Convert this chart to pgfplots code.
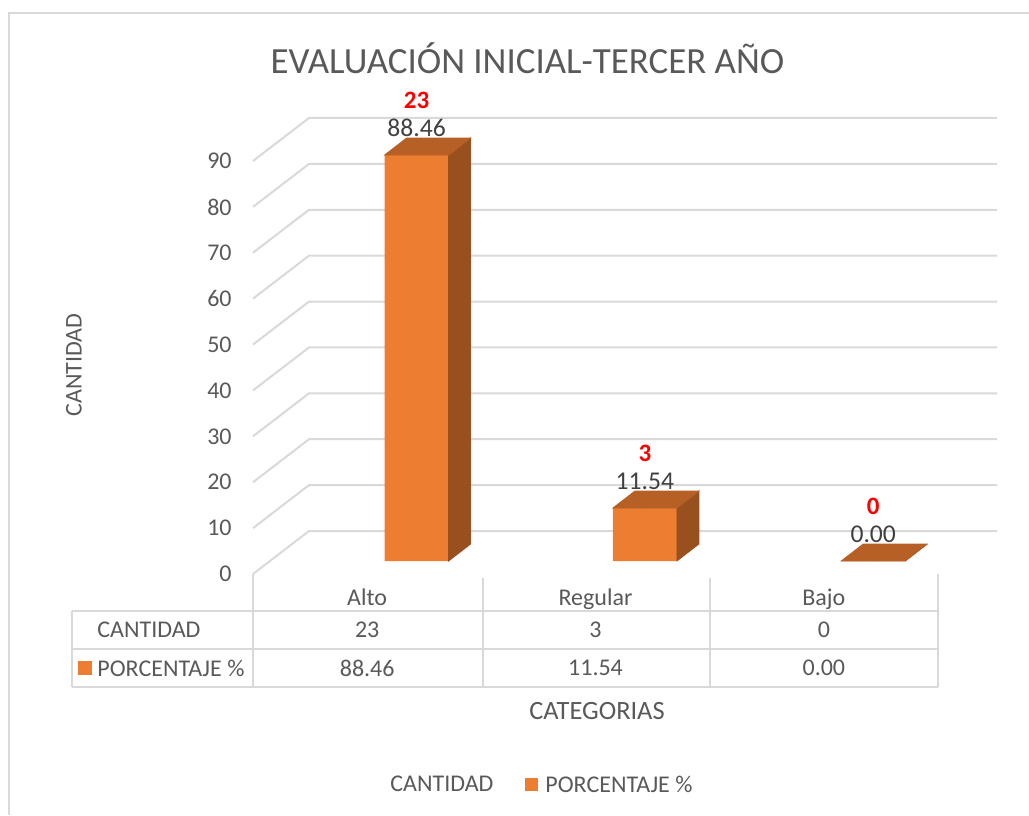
\documentclass[border=0pt]{standalone}
\usepackage{pgfplots}
\pgfplotsset{compat=1.18}
\usepackage{pgfplotstable}
\usepackage{fontspec}
\setmainfont{Carlito}

\definecolor{barfront}{RGB}{237,125,49}
\definecolor{bartop}{RGB}{183,96,37}
\definecolor{barside}{RGB}{152,80,30}
\definecolor{gridgray}{RGB}{217,217,217}
\definecolor{txtgray}{RGB}{89,89,89}
\definecolor{lblgray}{RGB}{64,64,64}

% categoria, cantidad, porcentaje
\pgfplotstableread{
x  cat      cant pct
0  Alto     23   88.46
1  Regular  3    11.54
2  Bajo     0    0.00
}\datos

\begin{document}
\begin{tikzpicture}[x=0.5pt,y=-0.5pt,font=\fontsize{12}{14}\selectfont,
  /pgf/number format/assume math mode=true]
\useasboundingbox (0,0) rectangle (1029,815);
\draw[gridgray,line width=1pt] (1029,13) -- (9,13) -- (9,815);

% rejilla 3D (pared del fondo)
\foreach \v in {0,10,...,90}{
  \pgfmathsetmacro\yf{574-4.589*\v}
  \draw[gridgray,line width=1pt] (253,\yf) -- (309,\yf-43) -- (997,\yf-43);
}

% tabla de datos
\draw[gridgray,line width=1pt]
  (72,611) -- (938,611) (72,649) -- (938,649) (72,687) -- (938,687) (72,611) -- (72,687)
  (253,574) -- (253,687) (483,578) -- (483,687) (710,578) -- (710,687) (938,574) -- (938,687);

\coordinate (O) at (253,574);
\begin{axis}[
  at={(O)}, anchor=south west,
  x=114.1667pt, y=2.2945pt,
  xmin=-0.5, xmax=2.5, ymin=0, ymax=90,
  axis line style={draw=none},
  major tick length=0pt,
  ytick={0,10,...,90},
  yticklabel style={anchor=east,inner sep=0pt,xshift=-10.5pt,text=txtgray},
  xtick={0,1,2},
  xticklabels from table={\datos}{cat},
  xticklabel style={anchor=base,inner sep=0pt,yshift=-15.5pt,text=txtgray},
  clip=false,
]
% cara frontal
\addplot[ybar, bar width=32pt, bar shift=24.7pt, yshift=6.5pt,
  fill=barfront, draw=none,
  nodes near coords={\pgfmathprintnumber[fixed,fixed zerofill,precision=2]{\pgfplotspointmeta}},
  nodes near coords style={anchor=center,xshift=24.7pt,yshift=13.5pt,text=lblgray,
    font=\fontsize{12.8}{14}\selectfont},
] table[x=x,y=pct] {\datos};
% techo y lateral
\addplot[forget plot, only marks, scatter, mark=*, mark size=0pt,
  mark options={draw=none,fill=none},
  xshift=24.7pt, yshift=6.5pt,
  visualization depends on={rawy \as \ry},
  scatter/@pre marker code/.code={%
    \pgfmathsetmacro\h{\ry*2.2945}%
    \fill[barside] (16pt,0pt) -- (27pt,8.5pt) -- (27pt,8.5pt-\h pt) -- (16pt,-\h pt) -- cycle;
    \fill[bartop] (-16pt,0pt) -- (16pt,0pt) -- (27pt,8.5pt) -- (-5pt,8.5pt) -- cycle;
  },
  scatter/@post marker code/.code={},
] table[x=x,y=pct] {\datos};
% cantidades en rojo
\addplot[forget plot, draw=none, mark=none, xshift=24.7pt, yshift=6.5pt,
  point meta=explicit symbolic,
  nodes near coords,
  nodes near coords style={anchor=center,yshift=27.5pt,text=red,font=\fontsize{12.5}{14}\selectfont\bfseries},
] table[x=x,y=pct,meta=cant] {\datos};
\end{axis}

\node[text=txtgray,font=\fontsize{18.45}{22}\selectfont] at (527.5,58) {EVALUACIÓN INICIAL-TERCER AÑO};
\node[text=txtgray,rotate=90] at (74,365) {CANTIDAD};

\node[text=txtgray,anchor=west,inner sep=0pt] at (97,630) {CANTIDAD};
\fill[barfront] (78,661) rectangle (92,675);
\node[text=txtgray,anchor=west,inner sep=0pt] at (97,668) {PORCENTAJE \%};
\foreach \r in {0,1,2}{
  \pgfplotstablegetelem{\r}{cant}\of\datos
  \node[text=txtgray] at (367.2+228.33*\r,630) {\pgfplotsretval};
  \pgfplotstablegetelem{\r}{pct}\of\datos
  \node[text=txtgray] at (367.2+228.33*\r,668) {\pgfplotsretval};
}

\node[text=txtgray,font=\fontsize{13.2}{15}\selectfont] at (597,711) {CATEGORIAS};
\node[text=txtgray,anchor=west,inner sep=0pt] at (390,784) {CANTIDAD};
\fill[barfront] (525,778) rectangle (538,791);
\node[text=txtgray,anchor=west,inner sep=0pt] at (545,784) {PORCENTAJE \%};
\end{tikzpicture}
\end{document}
